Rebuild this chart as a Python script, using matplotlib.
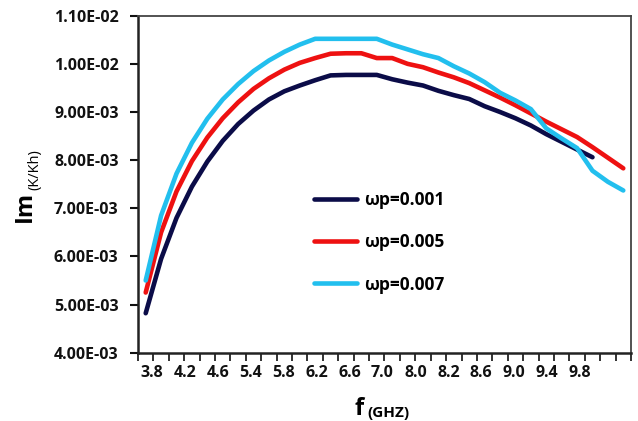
import numpy as np
import matplotlib
matplotlib.use('Agg')
import matplotlib.pyplot as plt
from matplotlib.ticker import FuncFormatter

plt.rcParams['font.family'] = ['Open Sans', 'DejaVu Sans']
plt.rcParams['font.weight'] = 'bold'

# tick labels shown under the category axis
freq_labels = ['3.8', '4.2', '4.6', '5.4', '5.8', '6.2', '6.6',
               '7.0', '8.0', '8.2', '8.6', '9.0', '9.4', '9.8']

# Im(K/Kh), in units of 1e-3, one value per frequency sample
im_wp001 = [4.82, 5.95, 6.80, 7.45, 7.97, 8.40, 8.75, 9.03, 9.26, 9.43,
            9.55, 9.66, 9.76, 9.77, 9.77, 9.77, 9.68, 9.61, 9.55, 9.44,
            9.35, 9.27, 9.12, 9.00, 8.87, 8.72, 8.54, 8.38, 8.22, 8.06]
im_wp005 = [5.25, 6.50, 7.35, 7.98, 8.47, 8.87, 9.20, 9.48, 9.70, 9.88,
            10.02, 10.12, 10.21, 10.22, 10.22, 10.12, 10.12, 10.00, 9.93, 9.82,
            9.72, 9.60, 9.45, 9.30, 9.14, 8.97, 8.80, 8.64, 8.48, 8.27,
            8.05, 7.83]
im_wp007 = [5.50, 6.85, 7.72, 8.36, 8.86, 9.26, 9.58, 9.85, 10.07, 10.25,
            10.40, 10.52, 10.52, 10.52, 10.52, 10.52, 10.40, 10.30, 10.20, 10.12,
            9.95, 9.80, 9.62, 9.40, 9.24, 9.06, 8.66, 8.45, 8.25, 7.78,
            7.55, 7.37]

series = [
    (im_wp001, '#0b0c48', '\u03c9p=0.001'),
    (im_wp005, '#ee1111', '\u03c9p=0.005'),
    (im_wp007, '#22bfee', '\u03c9p=0.007'),
]

fig = plt.figure(figsize=(6.38, 4.21), dpi=100)
ax = fig.add_axes([0.2163, 0.1622, 0.7727, 0.8005])

for vals, col, lab in series:
    y = np.array(vals) * 1e-3
    ax.plot(np.arange(len(y)), y, color=col, lw=3.3,
            solid_capstyle='round', solid_joinstyle='round', label=lab)

n_cat = len(im_wp005)
ax.set_xlim(-0.5, n_cat - 0.5)
ax.set_ylim(4e-3, 1.1e-2)

ax.set_yticks(np.arange(4, 11.01, 1) * 1e-3)
ax.yaxis.set_major_formatter(FuncFormatter(lambda v, _: f'{v:.2E}'))
ax.tick_params(axis='y', direction='out', length=6, width=1.5,
               pad=8, labelsize=11.5, colors='#111111')

# labels at their own positions, tick marks between categories
ax.set_xticks(np.linspace(0.4, 28.2, len(freq_labels)))
ax.set_xticklabels(freq_labels)
ax.set_xticks(np.arange(-0.5, n_cat, 1), minor=True)
ax.tick_params(axis='x', which='major', length=0, pad=9, labelsize=11.5,
               colors='#111111')
ax.tick_params(axis='x', which='minor', direction='out', length=6, width=1.3,
               color='#222222')

for side in ['left', 'bottom']:
    ax.spines[side].set_linewidth(1.8)
    ax.spines[side].set_color('#222222')
for side in ['top', 'right']:
    ax.spines[side].set_linewidth(1.3)
    ax.spines[side].set_color('#444444')

ax.legend(loc='upper left', bbox_to_anchor=(0.357, 0.48), frameon=False,
          borderaxespad=0, borderpad=0, handlelength=2.5, handletextpad=0.4,
          labelspacing=1.4, prop={'size': 12.5, 'weight': 'bold'})

# axis titles with smaller subscript part
fig.text(25 / 638, 1 - 206 / 421, 'Im', rotation=90, fontsize=17,
         fontweight='bold', ha='center', va='center')
fig.text(35 / 638, 1 - 170 / 421, '(K/Kh)', rotation=90, fontsize=10.5,
         fontweight='normal', ha='center', va='center')
fig.text(359 / 638, 1 - 409 / 421, 'f', fontsize=17, fontweight='bold',
         ha='center', va='center')
fig.text(388 / 638, 1 - 413 / 421, '(GHZ)', fontsize=11, fontweight='bold',
         ha='center', va='center')

fig.savefig('out.png', dpi=100)
